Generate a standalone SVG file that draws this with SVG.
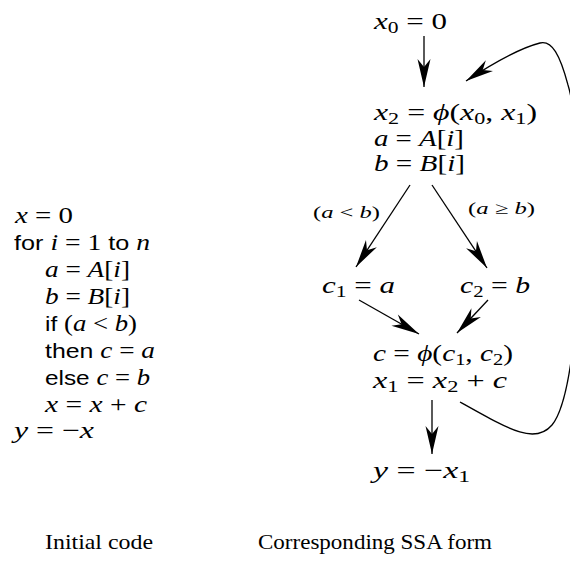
<svg xmlns="http://www.w3.org/2000/svg" width="570" height="564" viewBox="0 0 570 564">
<style>
.eq{font-family:"Liberation Serif","Times New Roman",serif;font-size:23px;fill:#000}
.lb{font-family:"Liberation Serif","Times New Roman",serif;font-size:17px;fill:#000}
.cap{font-family:"Liberation Serif","Times New Roman",serif;font-size:21px;fill:#000}
.i{font-style:italic}
.sf{font-family:"Liberation Sans",Arial,sans-serif;font-size:21px}
.sb{font-size:16px}
.edge{fill:none;stroke:#000;stroke-width:1.3}
</style>
<defs>
<marker id="ah" viewBox="-30 -8 32 16" refX="0" refY="0" markerWidth="32" markerHeight="16" orient="auto" markerUnits="userSpaceOnUse">
<path d="M0,0 L-28,-6.5 L-20,0 L-28,6.5 Z" fill="#000"/>
</marker>
</defs>
<rect width="570" height="564" fill="#fff"/>

<g id="initial-code">
<text class="eq" x="15" y="223" textLength="58" lengthAdjust="spacingAndGlyphs"><tspan class="i">x</tspan> = 0</text>
<text class="eq" x="14" y="250" textLength="136" lengthAdjust="spacingAndGlyphs"><tspan class="sf">for </tspan><tspan class="i">i</tspan> = 1 <tspan class="sf">to </tspan><tspan class="i">n</tspan></text>
<text class="eq" x="45" y="277" textLength="85" lengthAdjust="spacingAndGlyphs"><tspan class="i">a</tspan> = <tspan class="i">A</tspan>[<tspan class="i">i</tspan>]</text>
<text class="eq" x="45" y="304" textLength="85" lengthAdjust="spacingAndGlyphs"><tspan class="i">b</tspan> = <tspan class="i">B</tspan>[<tspan class="i">i</tspan>]</text>
<text class="eq" x="45" y="331" textLength="92" lengthAdjust="spacingAndGlyphs"><tspan class="sf">if </tspan>(<tspan class="i">a</tspan> &lt; <tspan class="i">b</tspan>)</text>
<text class="eq" x="45" y="358" textLength="110" lengthAdjust="spacingAndGlyphs"><tspan class="sf">then </tspan><tspan class="i">c</tspan> = <tspan class="i">a</tspan></text>
<text class="eq" x="45" y="385" textLength="105" lengthAdjust="spacingAndGlyphs"><tspan class="sf">else </tspan><tspan class="i">c</tspan> = <tspan class="i">b</tspan></text>
<text class="eq" x="45" y="412" textLength="102" lengthAdjust="spacingAndGlyphs"><tspan class="i">x</tspan> = <tspan class="i">x</tspan> + <tspan class="i">c</tspan></text>
<text class="eq" x="14" y="438" textLength="80" lengthAdjust="spacingAndGlyphs"><tspan class="i">y</tspan> = −<tspan class="i">x</tspan></text>
</g>

<g id="n-x0">
<text class="eq" x="374" y="29" textLength="73" lengthAdjust="spacingAndGlyphs"><tspan class="i">x</tspan><tspan class="sb" dy="4">0</tspan><tspan dy="-4"> = 0</tspan></text>
</g>

<g id="n-header">
<text class="eq" x="374" y="120" textLength="163" lengthAdjust="spacingAndGlyphs"><tspan class="i">x</tspan><tspan class="sb" dy="4">2</tspan><tspan dy="-4"> = </tspan><tspan class="i">ϕ</tspan>(<tspan class="i">x</tspan><tspan class="sb" dy="4">0</tspan><tspan dy="-4">, </tspan><tspan class="i">x</tspan><tspan class="sb" dy="4">1</tspan><tspan dy="-4">)</tspan></text>
<text class="eq" x="374" y="146" textLength="90" lengthAdjust="spacingAndGlyphs"><tspan class="i">a</tspan> = <tspan class="i">A</tspan>[<tspan class="i">i</tspan>]</text>
<text class="eq" x="374" y="171" textLength="91" lengthAdjust="spacingAndGlyphs"><tspan class="i">b</tspan> = <tspan class="i">B</tspan>[<tspan class="i">i</tspan>]</text>
</g>

<g id="n-c1">
<text class="eq" x="322" y="293" textLength="73" lengthAdjust="spacingAndGlyphs"><tspan class="i">c</tspan><tspan class="sb" dy="4">1</tspan><tspan dy="-4"> = </tspan><tspan class="i">a</tspan></text>
</g>

<g id="n-c2">
<text class="eq" x="460" y="293" textLength="70" lengthAdjust="spacingAndGlyphs"><tspan class="i">c</tspan><tspan class="sb" dy="4">2</tspan><tspan dy="-4"> = </tspan><tspan class="i">b</tspan></text>
</g>

<g id="n-join">
<text class="eq" x="373" y="361" textLength="140" lengthAdjust="spacingAndGlyphs"><tspan class="i">c</tspan> = <tspan class="i">ϕ</tspan>(<tspan class="i">c</tspan><tspan class="sb" dy="4">1</tspan><tspan dy="-4">, </tspan><tspan class="i">c</tspan><tspan class="sb" dy="4">2</tspan><tspan dy="-4">)</tspan></text>
<text class="eq" x="373" y="388" textLength="134" lengthAdjust="spacingAndGlyphs"><tspan class="i">x</tspan><tspan class="sb" dy="4">1</tspan><tspan dy="-4"> = </tspan><tspan class="i">x</tspan><tspan class="sb" dy="4">2</tspan><tspan dy="-4"> + </tspan><tspan class="i">c</tspan></text>
</g>

<g id="n-exit">
<text class="eq" x="373" y="478" textLength="97" lengthAdjust="spacingAndGlyphs"><tspan class="i">y</tspan> = −<tspan class="i">x</tspan><tspan class="sb" dy="4">1</tspan></text>
</g>

<g id="connectors">
<path class="edge" marker-end="url(#ah)" d="M424,36 L424,87"/>
<path class="edge" marker-end="url(#ah)" d="M410,185 L356,267"/>
<path class="edge" marker-end="url(#ah)" d="M432,185 L487,268"/>
<path class="edge" marker-end="url(#ah)" d="M359,300 L419,334"/>
<path class="edge" marker-end="url(#ah)" d="M488,300 L457,333"/>
<path class="edge" marker-end="url(#ah)" d="M432,400 L432,454"/>
<path class="edge" marker-end="url(#ah)" d="M460,402 C510,430 535,445 552,425 C585,385 585,140 568,85 C560,55 552,40 540,43 C520,48 495,62 466,81"/>
<text class="lb" x="313" y="218" textLength="67" lengthAdjust="spacingAndGlyphs">(<tspan class="i">a</tspan> &lt; <tspan class="i">b</tspan>)</text>
<text class="lb" x="468" y="214" textLength="67" lengthAdjust="spacingAndGlyphs">(<tspan class="i">a</tspan> ≥ <tspan class="i">b</tspan>)</text>
</g>

<g id="captions">
<text class="cap" x="45" y="549" textLength="108" lengthAdjust="spacingAndGlyphs">Initial code</text>
<text class="cap" x="258" y="549" textLength="234" lengthAdjust="spacingAndGlyphs">Corresponding SSA form</text>
</g>
</svg>
